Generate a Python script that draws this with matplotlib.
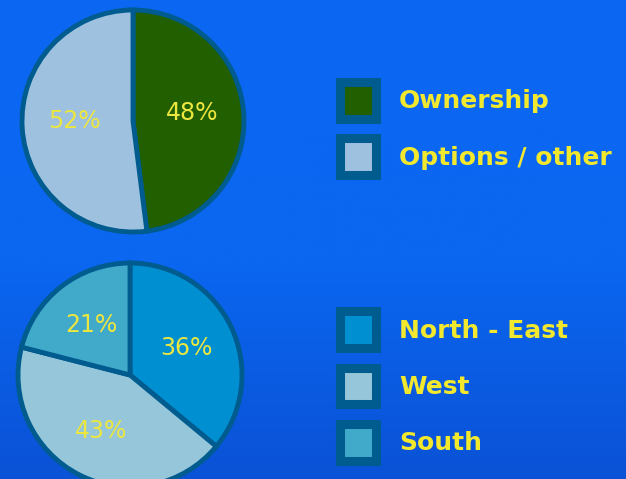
import numpy as np
import matplotlib.pyplot as plt
from matplotlib.patches import Patch
from matplotlib.colors import LinearSegmentedColormap

# data
own_labels = ['Ownership', 'Options / other']
own_values = [48, 52]
own_colors = ['#215f00', '#9dc1de']

region_labels = ['North - East', 'West', 'South']
region_values = [36, 43, 21]
region_colors = ['#0090d2', '#95c6d9', '#41a9c9']

W, H = 626, 479
edge = '#005b8f'
txt_yellow = '#f2e82e'
pct_yellow = '#ece640'

fig = plt.figure(figsize=(W / 100, H / 100), dpi=100)
ax = fig.add_axes([0, 0, 1, 1])

# blue background, a little darker towards the bottom
bg_cmap = LinearSegmentedColormap.from_list(
    'bg', [(0.0, '#0a52d6'), (0.45, '#0b66f0'), (1.0, '#0b68f3')])
grad = np.linspace(0, 1, 256).reshape(-1, 1)
ax.imshow(grad, extent=(0, W, 0, H), origin='lower', aspect='auto',
          cmap=bg_cmap, zorder=0)

wedge_kw = dict(edgecolor=edge, linewidth=3.5)
_, _, top_pct = ax.pie(own_values, colors=own_colors, startangle=90, counterclock=False,
                       center=(133, 358), radius=111, autopct='%.0f%%', pctdistance=0.53,
                       wedgeprops=wedge_kw, textprops=dict(color=pct_yellow, fontsize=17))
ax.pie(region_values, colors=region_colors, startangle=90, counterclock=False,
       center=(130, 104), radius=112, autopct='%.0f%%', pctdistance=0.56,
       wedgeprops=wedge_kw, textprops=dict(color=pct_yellow, fontsize=17))

# labels in the top pie sit a bit higher than the wedge middle
for t in top_pct:
    x, y = t.get_position()
    t.set_position((x, y + 4))

ax.set_xlim(0, W); ax.set_ylim(0, H)
ax.set_aspect('equal')
ax.axis('off')

leg_kw = dict(loc='upper left', bbox_transform=fig.transFigure, frameon=False,
              borderpad=0, borderaxespad=0, handlelength=1.45, handleheight=1.88,
              handletextpad=0.93, labelspacing=0.78,
              prop=dict(weight='bold', size=18), labelcolor=txt_yellow)

h1 = [Patch(facecolor=c, edgecolor=edge, linewidth=6.5) for c in own_colors]
leg1 = ax.legend(h1, own_labels, bbox_to_anchor=(339.5 / W, 1 - 82 / H), **leg_kw)
ax.add_artist(leg1)

h2 = [Patch(facecolor=c, edgecolor=edge, linewidth=6.5) for c in region_colors]
ax.legend(h2, region_labels, bbox_to_anchor=(339.5 / W, 1 - 311.5 / H), **leg_kw)

fig.savefig('out.png', dpi=100)
